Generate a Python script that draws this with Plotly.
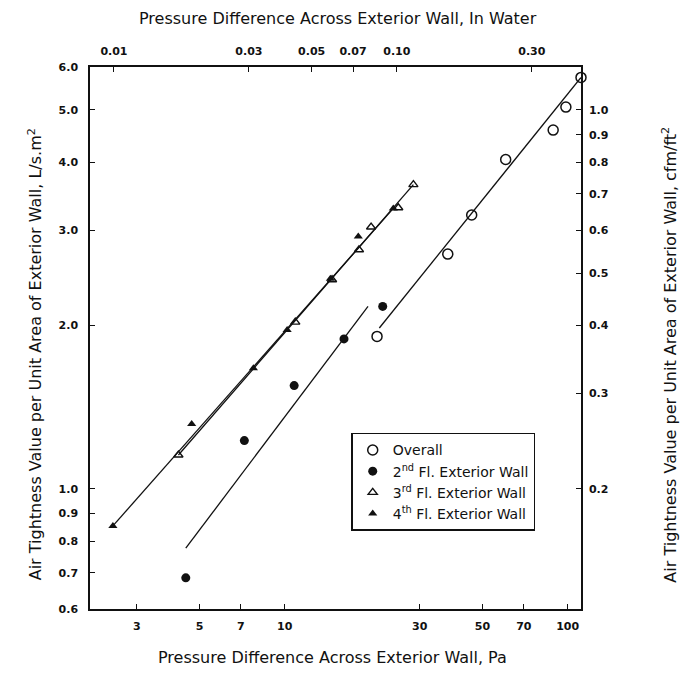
import numpy as np
import plotly.graph_objects as go

# Unit conversions for the secondary (top / right) scales
PA_PER_IN_WATER = 249.09
LSM2_PER_CFMFT2 = 5.0

# Measured air tightness: pressure difference (Pa) vs leakage (L/s.m2)
overall_pa = [21.2, 37.7, 45.8, 60.4, 88.9, 98.6, 111.5]
overall_q = [1.91, 2.71, 3.20, 4.05, 4.59, 5.06, 5.74]

floor2_pa = [4.47, 7.20, 10.8, 16.2, 22.2]
floor2_q = [0.685, 1.227, 1.55, 1.89, 2.17]

floor3_pa = [4.21, 10.9, 14.7, 18.3, 20.2, 25.2, 28.5]
floor3_q = [1.154, 2.03, 2.43, 2.76, 3.04, 3.30, 3.64]

floor4_pa = [2.47, 4.69, 7.75, 10.2, 14.5, 18.2, 24.2]
floor4_q = [0.854, 1.317, 1.669, 1.963, 2.44, 2.92, 3.29]

# Fitted power-law lines (end points)
overall_fit_pa = [21.6, 111.5]
overall_fit_q = [1.98, 5.74]
floor2_fit_pa = [4.47, 19.7]
floor2_fit_q = [0.777, 2.17]
floor3_fit_pa = [4.21, 28.5]
floor3_fit_q = [1.154, 3.64]
floor4_fit_pa = [2.47, 24.2]
floor4_fit_q = [0.854, 3.29]

# Axis limits and tick labels
pa_limits = [2.05, 111.5]
q_limits = [0.6, 6.0]
pa_ticks = [3, 5, 7, 10, 30, 50, 70, 100]
inwater_ticks = [0.01, 0.03, 0.05, 0.07, 0.10, 0.30]
q_ticks = [0.6, 0.7, 0.8, 0.9, 1.0, 2.0, 3.0, 4.0, 5.0, 6.0]
cfm_ticks = [0.2, 0.3, 0.4, 0.5, 0.6, 0.7, 0.8, 0.9, 1.0]

FONT = "DejaVu Sans"
INK = "#111111"

fig = go.Figure()

line_style = dict(color=INK, width=1.3)
for fx, fy in [(overall_fit_pa, overall_fit_q), (floor2_fit_pa, floor2_fit_q),
               (floor3_fit_pa, floor3_fit_q), (floor4_fit_pa, floor4_fit_q)]:
    fig.add_trace(go.Scatter(x=fx, y=fy, mode="lines", line=line_style,
                             showlegend=False, hoverinfo="skip"))

fig.add_trace(go.Scatter(
    x=overall_pa, y=overall_q, mode="markers", name="Overall", cliponaxis=False,
    marker=dict(symbol="circle-open", size=10, color=INK, line=dict(width=1.5, color=INK))))
fig.add_trace(go.Scatter(
    x=floor2_pa, y=floor2_q, mode="markers",
    name="2<sup>nd</sup> Fl. Exterior Wall",
    marker=dict(symbol="circle", size=9, color=INK)))
fig.add_trace(go.Scatter(
    x=floor3_pa, y=floor3_q, mode="markers",
    name="3<sup>rd</sup> Fl. Exterior Wall",
    marker=dict(symbol="triangle-up-open", size=8, color=INK, line=dict(width=1.4, color=INK))))
fig.add_trace(go.Scatter(
    x=floor4_pa, y=floor4_q, mode="markers",
    name="4<sup>th</sup> Fl. Exterior Wall",
    marker=dict(symbol="triangle-up", size=8, color=INK)))

# empty trace so the secondary axes get their own subplot
fig.add_trace(go.Scatter(x=[], y=[], xaxis="x2", yaxis="y2",
                         showlegend=False, hoverinfo="skip"))

tick_font = dict(family=FONT, size=11, color=INK, weight="bold")
frame = dict(showline=True, linecolor=INK, linewidth=1.5, showgrid=False,
             zeroline=False, ticks="inside", ticklen=5, tickwidth=1.2,
             tickcolor=INK, tickfont=tick_font)

fig.update_layout(
    width=688, height=677,
    margin=dict(l=90, r=107, t=67, b=68),
    paper_bgcolor="white", plot_bgcolor="white",
    font=dict(family=FONT, color=INK),
    xaxis=dict(type="log", range=[np.log10(pa_limits[0]), np.log10(pa_limits[1])],
               tickvals=pa_ticks, ticktext=[str(v) for v in pa_ticks],
               mirror=True, ticklabelstandoff=6, **frame),
    yaxis=dict(type="log", range=[np.log10(q_limits[0]), np.log10(q_limits[1])],
               tickvals=q_ticks, ticktext=[f"{v:.1f}" for v in q_ticks],
               mirror=True, ticklabelstandoff=8, **frame),
    xaxis2=dict(type="log", overlaying="x", side="top", anchor="y",
                range=[np.log10(pa_limits[0] / PA_PER_IN_WATER),
                       np.log10(pa_limits[1] / PA_PER_IN_WATER)],
                tickvals=inwater_ticks, ticktext=[f"{v:.2f}" for v in inwater_ticks],
                ticklabelstandoff=6, **frame),
    yaxis2=dict(type="log", overlaying="y", side="right", anchor="x",
                range=[np.log10(q_limits[0] / LSM2_PER_CFMFT2),
                       np.log10(q_limits[1] / LSM2_PER_CFMFT2)],
                tickvals=cfm_ticks, ticktext=[f"{v:.1f}" for v in cfm_ticks],
                ticklabelstandoff=4, **frame),
    legend=dict(x=0.532, y=0.325, xanchor="left", yanchor="top",
                bordercolor=INK, borderwidth=1.5, bgcolor="white",
                font=dict(family=FONT, size=14, color=INK), tracegroupgap=0),
    showlegend=True,
)

title_font = dict(family=FONT, size=16, color=INK)
fig.add_annotation(text="Pressure Difference Across Exterior Wall, In Water",
                   xref="paper", yref="paper", x=0.505, y=1.090,
                   xanchor="center", yanchor="middle",
                   showarrow=False, font=title_font)
fig.add_annotation(text="Pressure Difference Across Exterior Wall, Pa",
                   xref="paper", yref="paper", x=0.493, y=-0.090,
                   xanchor="center", yanchor="middle",
                   showarrow=False, font=title_font)
fig.add_annotation(text="Air Tightness Value per Unit Area of Exterior Wall, L/s.m<sup>2</sup>",
                   xref="paper", yref="paper", x=-0.112, y=0.47, textangle=-90,
                   xanchor="center", yanchor="middle",
                   showarrow=False, font=title_font)
fig.add_annotation(text="Air Tightness Value per Unit Area of Exterior Wall, cfm/ft<sup>2</sup>",
                   xref="paper", yref="paper", x=1.180, y=0.47, textangle=-90,
                   xanchor="center", yanchor="middle",
                   showarrow=False, font=title_font)

fig.write_html("out.html")
